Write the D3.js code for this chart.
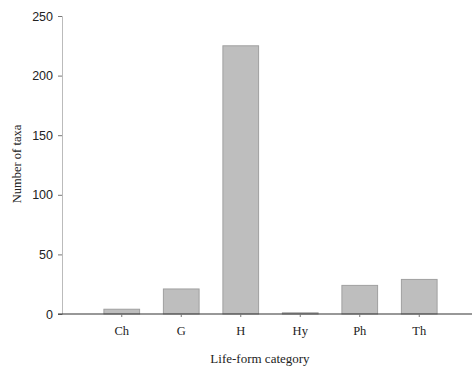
<!DOCTYPE html>
<html>
<head>
<meta charset="utf-8">
<script src="https://cdn.jsdelivr.net/npm/d3@7"></script>
<style>
  body { margin: 0; background: #fff; }
</style>
</head>
<body>
<svg id="chart" width="472" height="371"></svg>
<script>
// data
var categories = ["Ch", "G", "H", "Hy", "Ph", "Th"];
var taxaCounts = [4, 21, 225, 1, 24, 29];
var yTicks = [0, 50, 100, 150, 200, 250];

var svg = d3.select("#chart");

// scales
var x = d3.scaleBand()
    .domain(categories)
    .range([92, 449])
    .paddingInner(0.4)
    .paddingOuter(0.2);

var y = d3.scaleLinear()
    .domain([0, 250])
    .range([314, 16]);

// y axis
var yAxis = svg.append("g")
    .attr("transform", "translate(62,0)")
    .call(d3.axisLeft(y).tickValues(yTicks).tickSize(4).tickPadding(5));
yAxis.select(".domain").attr("stroke", "#bbb");
yAxis.selectAll(".tick line").attr("stroke", "#777");
yAxis.selectAll("text")
    .attr("fill", "#222")
    .style("font-family", "Liberation Sans, Arial, sans-serif")
    .style("font-size", "12.5px");

// bars
svg.append("g").selectAll("rect")
    .data(taxaCounts)
    .enter().append("rect")
    .attr("x", function (d, i) { return x(categories[i]); })
    .attr("y", function (d) { return y(d); })
    .attr("width", x.bandwidth())
    .attr("height", function (d) { return y(0) - y(d); })
    .style("fill", "#bebebe")
    .style("stroke", "#a0a0a0")
    .style("stroke-width", 1);

// x axis line across the whole width
svg.append("line")
    .attr("x1", 58).attr("x2", 472)
    .attr("y1", y(0)).attr("y2", y(0))
    .attr("stroke", "#333")
    .attr("stroke-width", 1.2);

// x ticks + labels
var xAxis = svg.append("g")
    .attr("transform", "translate(0," + y(0) + ")")
    .call(d3.axisBottom(x).tickSize(3).tickPadding(9));
xAxis.select(".domain").remove();
xAxis.selectAll(".tick line").attr("stroke", "#777");
xAxis.selectAll("text")
    .attr("fill", "#222")
    .style("font-family", "Liberation Serif, Times New Roman, serif")
    .style("font-size", "12.5px");

// axis titles
svg.append("text")
    .attr("x", 260)
    .attr("y", 363)
    .attr("text-anchor", "middle")
    .style("font-family", "Liberation Serif, Times New Roman, serif")
    .style("font-size", "13px")
    .attr("fill", "#222")
    .text("Life-form category");

svg.append("text")
    .attr("transform", "translate(21,164) rotate(-90)")
    .attr("text-anchor", "middle")
    .style("font-family", "Liberation Serif, Times New Roman, serif")
    .style("font-size", "12.5px")
    .attr("fill", "#222")
    .text("Number of taxa");
</script>
</body>
</html>
